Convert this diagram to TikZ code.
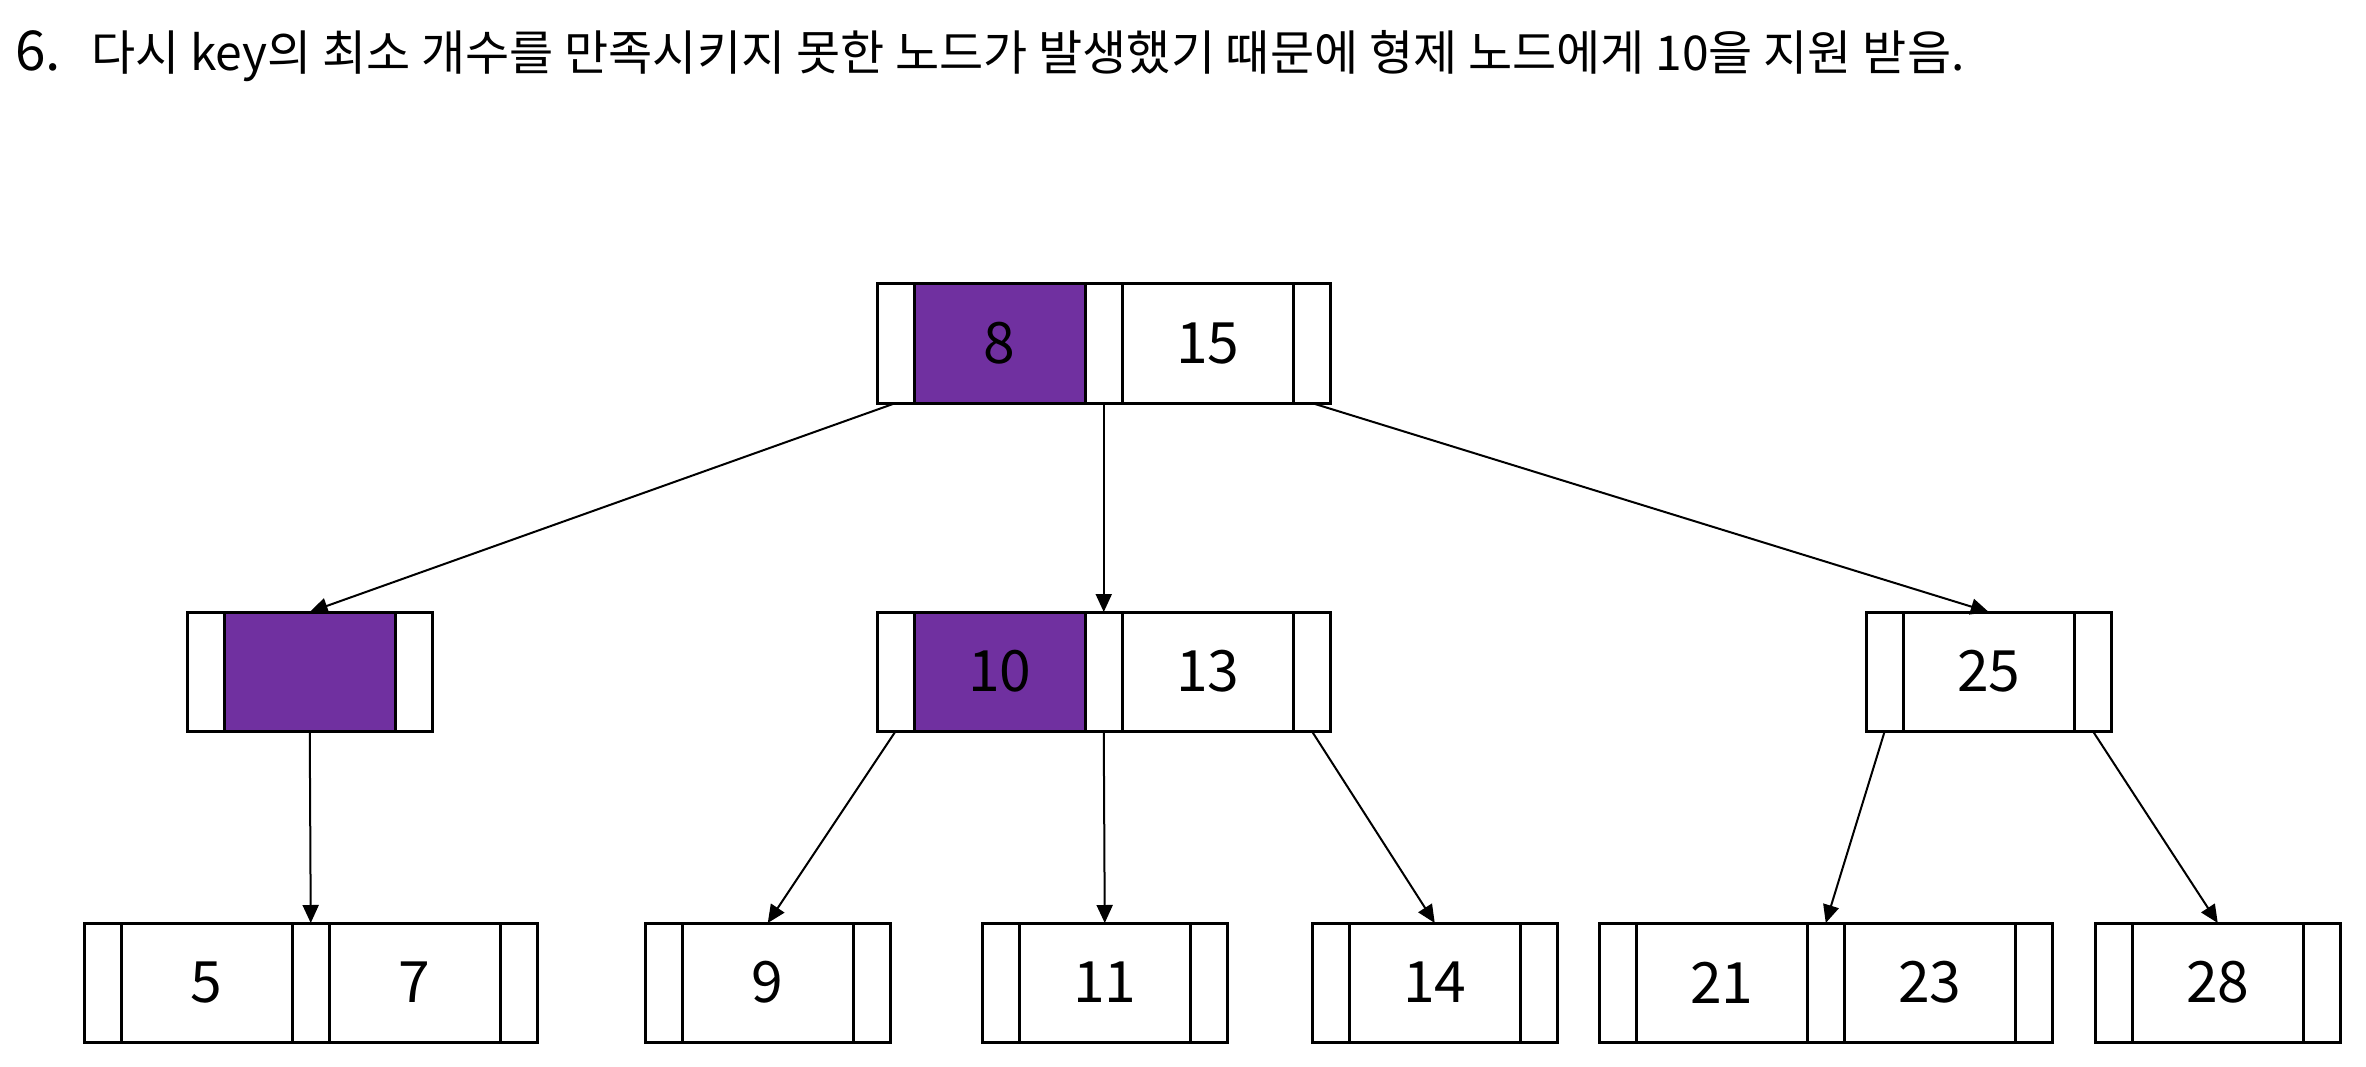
\documentclass[tikz,border=0pt]{standalone}
\usepackage{fontspec}
\setmainfont{Noto Sans CJK KR}
\usetikzlibrary{arrows.meta,positioning}
\definecolor{keypurple}{HTML}{7030A0}

\begin{document}
\begin{tikzpicture}[x=1pt,y=-1pt,
  ptr/.style={draw,line width=3pt,minimum width=37.5pt,minimum height=119pt,inner sep=0pt,outer sep=0pt},
  key/.style={ptr,minimum width=170.5pt,font=\fontsize{57}{68}\selectfont},
  hl/.style={fill=keypurple},
  flow/.style={-{Triangle[length=18pt,width=16pt]},line width=2pt}
]
  \useasboundingbox (0,0) rectangle (2366,1067);

  \node[anchor=base west,inner sep=0pt] (title) at (15,71)
    {{\fontsize{55}{64}\selectfont 6.}\hspace{30pt}{\fontsize{48}{56}\selectfont 다시 key의 최소 개수를 만족시키지 못한 노드가 발생했기 때문에 형제 노드에게 10을 지원 받음.}};

  % root
  \node[ptr,anchor=north west] (tp0) at (877,284) {};
  \node[key,hl,right=0pt of tp0] (tk1) {8};
  \node[ptr,right=0pt of tk1] (tp1) {};
  \node[key,right=0pt of tp1] (tk2) {15};
  \node[ptr,right=0pt of tk2] (tp2) {};

  % second level
  \node[ptr,anchor=north west] (ap0) at (187,612) {};
  \node[key,hl,right=0pt of ap0] (ak1) {};
  \node[ptr,right=0pt of ak1] (ap1) {};

  \node[ptr,anchor=north west] (bp0) at (877,612) {};
  \node[key,hl,right=0pt of bp0] (bk1) {10};
  \node[ptr,right=0pt of bk1] (bp1) {};
  \node[key,right=0pt of bp1] (bk2) {13};
  \node[ptr,right=0pt of bk2] (bp2) {};

  \node[ptr,anchor=north west] (cp0) at (1866,612) {};
  \node[key,right=0pt of cp0] (ck1) {25};
  \node[ptr,right=0pt of ck1] (cp1) {};

  % leaves
  \node[ptr,anchor=north west] (dp0) at (84,923) {};
  \node[key,right=0pt of dp0] (dk1) {5};
  \node[ptr,right=0pt of dk1] (dp1) {};
  \node[key,right=0pt of dp1] (dk2) {7};
  \node[ptr,right=0pt of dk2] (dp2) {};

  \node[ptr,anchor=north west] (ep0) at (645,923) {};
  \node[key,right=0pt of ep0] (ek1) {9};
  \node[ptr,right=0pt of ek1] (ep1) {};

  \node[ptr,anchor=north west] (fp0) at (982,923) {};
  \node[key,right=0pt of fp0] (fk1) {11};
  \node[ptr,right=0pt of fk1] (fp1) {};

  \node[ptr,anchor=north west] (gp0) at (1312,923) {};
  \node[key,right=0pt of gp0] (gk1) {14};
  \node[ptr,right=0pt of gk1] (gp1) {};

  \node[ptr,anchor=north west] (hp0) at (1599,923) {};
  \node[key,right=0pt of hp0] (hk1) {21};
  \node[ptr,right=0pt of hk1] (hp1) {};
  \node[key,right=0pt of hp1] (hk2) {23};
  \node[ptr,right=0pt of hk2] (hp2) {};

  \node[ptr,anchor=north west] (ip0) at (2095,923) {};
  \node[key,right=0pt of ip0] (ik1) {28};
  \node[ptr,right=0pt of ik1] (ip1) {};

  \path[flow]
    (tp0.south) edge (ak1.north)
    (tp1.south) edge (bp1.north)
    (tp2.south) edge (ck1.north)
    (ak1.south) edge (dp1.north)
    (bp0.south) edge (ek1.north)
    (bp1.south) edge (fk1.north)
    (bp2.south) edge (gk1.north)
    (cp0.south) edge (hp1.north)
    (cp1.south) edge (ik1.north);
\end{tikzpicture}
\end{document}
